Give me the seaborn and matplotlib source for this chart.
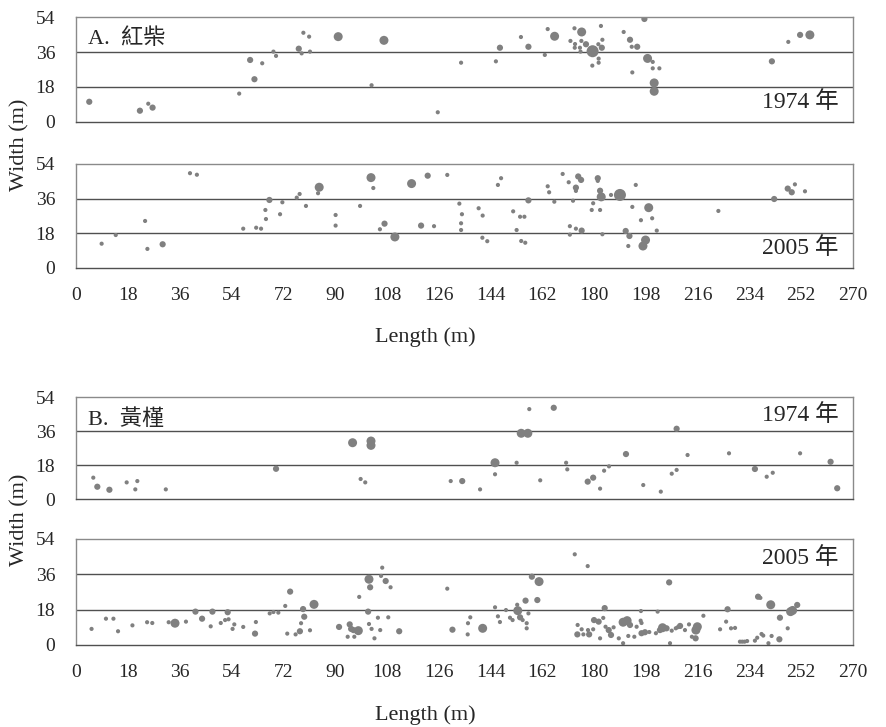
import pandas as pd
import seaborn as sns
import matplotlib.pyplot as plt

# ---- data: length (m), width (m), crown size class ----
a74_len = [4.6, 22.2, 25.1, 26.6, 56.7, 60.5, 64.7, 62.0, 68.6, 69.5, 77.4, 78.4, 79.0, 81.0, 81.3,
           91.1, 102.7, 107.0, 125.7, 133.8, 145.9, 147.3, 154.6, 157.2, 162.9, 163.9, 166.3, 171.8,
           173.2, 173.4, 173.3, 175.7, 175.6, 177.2, 175.1, 175.3, 179.5, 182.4, 182.9, 181.5, 182.7,
           181.6, 181.6, 179.4, 190.3, 192.5, 193.1, 195.0, 193.3, 197.5, 198.6, 200.4, 200.4, 202.7,
           200.9, 200.9, 241.8, 247.5, 251.6, 255.0]
a74_wid = [10.4, 5.8, 9.4, 7.4, 14.6, 31.9, 30.2, 22.0, 36.2, 34.0, 37.7, 35.3, 45.9, 43.9, 36.2,
           43.9, 18.9, 42.0, 5.0, 30.5, 31.2, 38.2, 43.7, 38.7, 34.5, 47.8, 44.1, 41.7,
           48.2, 40.1, 38.2, 46.3, 41.7, 40.0, 38.2, 36.2, 36.4, 49.4, 42.3, 40.0, 38.2,
           32.6, 30.5, 29.0, 46.3, 42.3, 38.7, 38.7, 25.5, 53.0, 32.7, 30.9, 27.6, 27.6,
           20.1, 15.8, 31.2, 41.2, 44.8, 44.8]
a74_sz = [2, 2, 1, 2, 1, 2, 1, 2, 1, 1, 2, 1, 1, 1, 1,
          3, 1, 3, 1, 1, 1, 2, 1, 2, 1, 1, 3, 1,
          1, 1, 1, 3, 1, 2, 1, 1, 4, 1, 1, 1, 2,
          1, 1, 1, 1, 2, 1, 2, 1, 2, 3, 1, 1, 1,
          3, 3, 2, 1, 2, 3]

a05_len = [8.9, 13.8, 24.0, 24.8, 30.1, 39.6, 42.0, 58.1, 62.6, 64.3, 66.0, 65.8, 67.2, 71.7, 70.9,
           76.7, 77.7, 79.9, 84.5, 84.1, 90.2, 90.2, 98.7, 102.5, 103.3, 105.6, 107.2, 110.8, 116.6,
           122.2, 119.9, 124.4, 129.0, 133.2, 134.1, 133.8, 133.8, 139.9, 141.3, 141.2, 142.9, 146.6,
           147.7, 151.9, 154.3, 155.8, 153.1, 154.7, 156.1, 157.2, 163.9, 164.4, 166.2, 169.1, 171.2,
           172.7, 171.6, 171.6, 173.7, 175.7, 173.7, 173.7, 174.5, 175.5, 181.3, 181.3, 182.1, 182.5,
           179.2, 179.7, 182.1, 182.9, 185.9, 189.0, 194.5, 193.3, 199.0, 196.3, 200.2, 201.8, 191.0,
           192.3, 191.9, 197.9, 197.0, 223.2, 242.6, 247.3, 248.7, 249.8, 253.3]
a05_wid = [12.6, 17.1, 24.4, 9.9, 12.3, 49.2, 48.4, 20.4, 20.9, 20.4, 25.4, 30.1, 35.3, 34.1, 27.9,
           36.5, 38.4, 32.2, 41.9, 38.8, 27.5, 22.0, 32.2, 46.9, 41.5, 20.1, 23.0, 16.1, 43.8,
           47.9, 22.0, 21.7, 48.3, 33.4, 27.9, 23.2, 19.7, 31.0, 27.2, 15.7, 13.9, 43.1,
           46.6, 29.4, 26.6, 26.6, 19.7, 14.0, 13.1, 35.1, 42.4, 39.3, 34.4, 48.8, 44.5,
           34.9, 21.7, 17.3, 20.4, 19.4, 41.7, 40.0, 47.5, 45.7, 46.6, 45.2, 40.1, 36.9,
           30.1, 33.6, 30.1, 17.5, 37.9, 37.9, 43.1, 31.7, 31.3, 24.8, 25.8, 19.4, 19.2,
           16.6, 11.4, 14.5, 11.4, 29.6, 35.8, 41.2, 39.3, 43.4, 39.8]
a05_sz = [1, 1, 1, 1, 2, 1, 1, 1, 1, 1, 1, 1, 2, 1, 1,
          1, 1, 1, 3, 1, 1, 1, 1, 3, 1, 1, 2, 3, 3,
          2, 2, 1, 1, 1, 1, 1, 1, 1, 1, 1, 1, 1,
          1, 1, 1, 1, 1, 1, 1, 2, 1, 1, 1, 1, 1,
          1, 1, 1, 1, 2, 2, 1, 2, 2, 2, 1, 2, 3,
          1, 1, 1, 1, 1, 4, 1, 1, 3, 1, 1, 1, 2,
          2, 1, 3, 3, 1, 2, 2, 2, 1, 1]

b74_len = [6.0, 7.4, 11.6, 17.6, 21.3, 20.6, 31.2, 69.5, 96.1, 102.5, 102.5, 98.9, 100.5, 130.2,
           134.2, 140.4, 145.6, 145.6, 153.1, 154.7, 157.0, 157.5, 166.0, 161.3, 170.3, 170.7, 177.8,
           179.7, 182.1, 183.5, 185.2, 191.1, 197.1, 203.2, 207.0, 208.7, 208.7, 212.5, 226.9, 235.9,
           240.0, 242.1, 251.6, 262.2, 264.5]
b74_wid = [11.3, 6.5, 4.9, 8.8, 9.5, 5.1, 5.1, 16.0, 29.8, 30.7, 28.4, 10.6, 8.8, 9.5,
           9.5, 5.1, 19.2, 13.1, 19.2, 34.8, 34.8, 47.6, 48.3, 9.9, 19.2, 15.7, 9.2,
           11.3, 5.5, 15.0, 17.3, 23.8, 7.4, 3.9, 13.4, 15.4, 37.2, 23.3, 24.2, 15.9,
           11.8, 13.9, 24.2, 19.7, 5.7]
b74_sz = [1, 2, 2, 1, 1, 1, 1, 2, 3, 3, 3, 1, 1, 1,
          2, 1, 3, 1, 1, 3, 3, 1, 2, 1, 1, 1, 2,
          2, 1, 1, 1, 2, 1, 1, 1, 1, 2, 1, 1, 2,
          1, 1, 1, 2, 2]

b05_len = [5.4, 10.4, 13.0, 14.6, 19.6, 24.7, 26.5, 32.2, 34.4, 38.2, 41.5, 43.8, 46.8, 47.4, 50.3,
           51.8, 53.0, 52.7, 54.4, 55.0, 58.1, 62.2, 62.5, 67.3, 68.6, 70.3, 72.7, 74.4, 73.4, 76.3,
           77.8, 78.2, 79.3, 78.9, 81.3, 82.7, 91.4, 94.4, 95.1, 95.6, 96.7, 96.4, 98.1, 98.4, 101.5,
           101.8, 102.2, 101.8, 102.7, 103.7, 104.9, 105.7, 106.4, 106.0, 107.6, 109.3, 108.5, 112.3,
           129.0, 130.8, 136.1, 136.2, 137.0, 141.3, 145.6, 146.6, 147.3, 149.4, 150.8, 151.7, 153.3,
           153.5, 154.3, 156.2, 155.2, 157.2, 156.6, 156.6, 158.4, 160.3, 160.9, 173.3, 177.8, 183.7,
           174.3, 174.2, 175.7, 176.3, 178.3, 177.9, 179.7, 180.0, 181.6, 183.2, 182.1, 184.0, 185.1,
           185.9, 186.8, 188.6, 190.1, 190.1, 191.5, 192.5, 191.9, 194.0, 194.8, 196.2, 196.5, 196.3,
           196.5, 197.7, 199.2, 201.5, 202.1, 202.9, 203.8, 205.2, 206.1, 206.4, 207.0, 208.4, 209.0,
           209.9, 211.6, 213.0, 214.0, 215.3, 215.4, 215.9, 218.0, 223.8, 225.9, 226.4, 227.6, 229.0,
           230.7, 231.5, 232.3, 233.2, 235.9, 236.7, 238.2, 238.8, 240.6, 241.7, 244.4, 237.0, 237.8,
           241.4, 244.6, 247.3, 248.3, 249.0, 250.6]
b05_wid = [8.2, 13.4, 13.4, 7.0, 10.0, 11.6, 11.2, 11.6, 11.1, 11.9, 17.0, 13.4, 9.5, 17.0, 11.2,
           12.7, 13.1, 16.7, 8.2, 10.5, 9.2, 5.8, 11.7, 16.1, 16.8, 16.5, 19.9, 27.2, 5.8, 5.4,
           7.0, 11.1, 14.4, 18.3, 7.5, 20.7, 9.2, 4.2, 10.5, 8.2, 4.2, 7.6, 7.3, 24.5, 17.0,
           33.5, 29.4, 10.7, 8.2, 3.4, 13.9, 7.6, 39.4, 35.2, 32.6, 29.4, 14.1, 7.0,
           28.7, 7.8, 5.4, 11.1, 14.1, 8.5, 19.2, 14.6, 11.7, 17.8, 13.9, 12.7, 20.5,
           17.5, 14.1, 22.6, 12.7, 16.1, 11.1, 8.5, 34.8, 22.9, 32.3, 46.2, 40.2, 18.8,
           10.2, 5.4, 8.0, 5.4, 5.4, 7.6, 8.0, 12.7, 11.9, 13.8, 3.4, 9.3, 7.6,
           5.1, 9.0, 3.4, 0.9, 11.6, 12.4, 10.2, 4.6, 4.2, 9.3, 12.4, 11.2, 17.3,
           6.0, 6.5, 6.6, 6.0, 17.0, 7.6, 8.8, 8.5, 31.9, 0.9, 7.3, 8.5, 9.0,
           9.7, 7.6, 10.5, 4.2, 3.4, 7.6, 9.3, 14.9, 8.0, 11.9, 18.2, 8.5, 8.7,
           1.7, 1.7, 1.7, 2.0, 2.2, 3.7, 5.6, 4.8, 0.9, 4.6, 2.9, 24.6, 24.0,
           20.5, 13.9, 8.5, 17.0, 17.6, 20.4]
b05_sz = [1, 1, 1, 1, 1, 1, 1, 1, 3, 1, 2, 2, 1, 2, 1,
          1, 1, 2, 1, 1, 1, 2, 1, 1, 1, 1, 1, 2, 1, 1,
          2, 1, 2, 2, 1, 3, 2, 1, 2, 2, 1, 2, 3, 1, 2,
          3, 2, 1, 1, 1, 1, 1, 1, 1, 2, 1, 1, 2,
          1, 2, 1, 1, 1, 3, 1, 1, 1, 1, 1, 1, 1,
          3, 2, 2, 1, 1, 1, 1, 2, 2, 3, 1, 1, 2,
          1, 2, 1, 1, 2, 1, 1, 2, 2, 1, 1, 1, 2,
          2, 1, 1, 1, 3, 3, 2, 1, 1, 1, 1, 1, 1,
          2, 2, 1, 1, 1, 2, 3, 2, 2, 1, 1, 1, 1,
          2, 1, 1, 1, 2, 3, 3, 1, 1, 1, 2, 1, 1,
          1, 1, 1, 1, 1, 1, 1, 1, 1, 1, 2, 2, 1,
          3, 2, 1, 3, 3, 2]

panels = [
    (a74_len, a74_wid, a74_sz, 'A.  紅柴', '1974 年', 'bottom'),
    (a05_len, a05_wid, a05_sz, None, '2005 年', 'bottom'),
    (b74_len, b74_wid, b74_sz, 'B.  黃槿', '1974 年', 'top'),
    (b05_len, b05_wid, b05_sz, None, '2005 年', 'top'),
]

sns.set_style('white')
plt.rcParams['font.family'] = ['Liberation Serif', 'Noto Sans CJK TC', 'DejaVu Sans']

fig = plt.figure(figsize=(8.86, 7.27), dpi=100)
# axes boxes in figure fraction (left, bottom, width, height)
boxes = [
    (0.0858, 0.8322, 0.8770, 0.1444),
    (0.0858, 0.6314, 0.8770, 0.1431),
    (0.0858, 0.3136, 0.8770, 0.1403),
    (0.0858, 0.1128, 0.8770, 0.1458),
]
size_map = {1: 9, 2: 20, 3: 42, 4: 75}

for i, (lens, wids, szs, label, year, ypos) in enumerate(panels):
    ax = fig.add_axes(boxes[i])
    df = pd.DataFrame({'Length': lens, 'Width': wids, 'Size': szs})
    sns.scatterplot(data=df, x='Length', y='Width', size='Size', sizes=size_map,
                    color='#808080', edgecolor='none', linewidth=0, legend=False, ax=ax)
    for h in (18, 36):
        ax.axhline(h, color='#505050', lw=1, zorder=0)
    ax.set_xlim(0, 270)
    ax.set_ylim(0, 54)
    ax.set_xticks(range(0, 271, 18))
    ax.set_yticks([0, 18, 36, 54])
    ax.tick_params(axis='x', direction='in', length=4, width=1, color='#505050',
                   labelsize=14, pad=14, labelbottom=(i % 2 == 1))
    ax.tick_params(axis='y', length=0, labelsize=14, pad=15)
    ax.set_xlabel('')
    ax.set_ylabel('')
    for sp in ax.spines.values():
        sp.set_color('#8a8a8a')
        sp.set_linewidth(1)
    ax.spines['bottom'].set_color('#505050')
    if label:
        ax.text(0.016, 0.79 if i == 0 else 0.78, label, transform=ax.transAxes, fontsize=16,
                ha='left', va='center')
    ty = 0.19 if ypos == 'bottom' else 0.82
    ax.text(0.981, ty, year, transform=ax.transAxes, fontsize=17,
            ha='right', va='center')

fig.text(425 / 886, 1 - 337 / 727, 'Length (m)', ha='center', va='center', fontsize=16)
fig.text(425 / 886, 1 - 715 / 727, 'Length (m)', ha='center', va='center', fontsize=16)
fig.text(20 / 886, 1 - 145 / 727, 'Width (m)', rotation=90, ha='center', va='center', fontsize=16)
fig.text(20 / 886, 1 - 520 / 727, 'Width (m)', rotation=90, ha='center', va='center', fontsize=16)

fig.savefig('out.png', dpi=100)
